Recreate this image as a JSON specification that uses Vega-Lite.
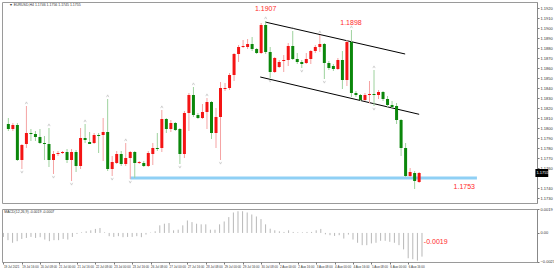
{
 "$schema": "https://vega.github.io/schema/vega-lite/v6.json",
 "padding": {"left": 1, "top": 1, "right": 0, "bottom": 0},
 "background": "white",
 "spacing": 2,
 "config": {"view": {"stroke": "#9a9a9a", "strokeWidth": 1}, "font": "Liberation Sans", "axis": {"labelOverlap": false}},
 "datasets": {
  "candles": [
   {"i":0,"o":1.1804,"h":1.1810,"l":1.1797,"c":1.1799},
   {"i":1,"o":1.1799,"h":1.1805,"l":1.1797,"c":1.1803},
   {"i":2,"o":1.1803,"h":1.1805,"l":1.1767,"c":1.1768},
   {"i":3,"o":1.1768,"h":1.1784,"l":1.1759,"c":1.1783},
   {"i":4,"o":1.1784,"h":1.1822,"l":1.1780,"c":1.1795},
   {"i":5,"o":1.1795,"h":1.1799,"l":1.1787,"c":1.1794},
   {"i":6,"o":1.1794,"h":1.1797,"l":1.1787,"c":1.1791},
   {"i":7,"o":1.1791,"h":1.1799,"l":1.1784,"c":1.1785},
   {"i":8,"o":1.1785,"h":1.1792,"l":1.1768,"c":1.1784},
   {"i":9,"o":1.1784,"h":1.1800,"l":1.1761,"c":1.1768},
   {"i":10,"o":1.1768,"h":1.1777,"l":1.1754,"c":1.1774},
   {"i":11,"o":1.1774,"h":1.1777,"l":1.1772,"c":1.1775},
   {"i":12,"o":1.1775,"h":1.1777,"l":1.1774,"c":1.1776},
   {"i":13,"o":1.1776,"h":1.1779,"l":1.1765,"c":1.1768},
   {"i":14,"o":1.1768,"h":1.1779,"l":1.1747,"c":1.1776},
   {"i":15,"o":1.1776,"h":1.1778,"l":1.1756,"c":1.1762},
   {"i":16,"o":1.1762,"h":1.1800,"l":1.1759,"c":1.1790},
   {"i":17,"o":1.1790,"h":1.1804,"l":1.1785,"c":1.1788},
   {"i":18,"o":1.1786,"h":1.1796,"l":1.1784,"c":1.1784},
   {"i":19,"o":1.1785,"h":1.1795,"l":1.1784,"c":1.1793},
   {"i":20,"o":1.1793,"h":1.1795,"l":1.1775,"c":1.1792},
   {"i":21,"o":1.1793,"h":1.1810,"l":1.1767,"c":1.1796},
   {"i":22,"o":1.1796,"h":1.1829,"l":1.1757,"c":1.1759},
   {"i":23,"o":1.1759,"h":1.1772,"l":1.1752,"c":1.1766},
   {"i":24,"o":1.1765,"h":1.1777,"l":1.1764,"c":1.1774},
   {"i":25,"o":1.1774,"h":1.1777,"l":1.1762,"c":1.1764},
   {"i":26,"o":1.1764,"h":1.1785,"l":1.1762,"c":1.1770},
   {"i":27,"o":1.1770,"h":1.1777,"l":1.1749,"c":1.1776},
   {"i":28,"o":1.1776,"h":1.1777,"l":1.1750,"c":1.1765},
   {"i":29,"o":1.1765,"h":1.1767,"l":1.1764,"c":1.1766},
   {"i":30,"o":1.1765,"h":1.1767,"l":1.1761,"c":1.1762},
   {"i":31,"o":1.1762,"h":1.1777,"l":1.1761,"c":1.1775},
   {"i":32,"o":1.1774,"h":1.1785,"l":1.1763,"c":1.1780},
   {"i":33,"o":1.1780,"h":1.1795,"l":1.1777,"c":1.1779},
   {"i":34,"o":1.1780,"h":1.1818,"l":1.1776,"c":1.1809},
   {"i":35,"o":1.1809,"h":1.1810,"l":1.1795,"c":1.1799},
   {"i":36,"o":1.1799,"h":1.1808,"l":1.1796,"c":1.1805},
   {"i":37,"o":1.1805,"h":1.1806,"l":1.1797,"c":1.1798},
   {"i":38,"o":1.1799,"h":1.1800,"l":1.1764,"c":1.1774},
   {"i":39,"o":1.1774,"h":1.1817,"l":1.1770,"c":1.1815},
   {"i":40,"o":1.1815,"h":1.1835,"l":1.1797,"c":1.1833},
   {"i":41,"o":1.1833,"h":1.1841,"l":1.1811,"c":1.1813},
   {"i":42,"o":1.1813,"h":1.1815,"l":1.1809,"c":1.1810},
   {"i":43,"o":1.1810,"h":1.1824,"l":1.1809,"c":1.1816},
   {"i":44,"o":1.1816,"h":1.1830,"l":1.1799,"c":1.1826},
   {"i":45,"o":1.1826,"h":1.1827,"l":1.1789,"c":1.1795},
   {"i":46,"o":1.1795,"h":1.1820,"l":1.1780,"c":1.1811},
   {"i":47,"o":1.1811,"h":1.1846,"l":1.1768,"c":1.1840},
   {"i":48,"o":1.1839,"h":1.1845,"l":1.1837,"c":1.1840},
   {"i":49,"o":1.1840,"h":1.1855,"l":1.1838,"c":1.1853},
   {"i":50,"o":1.1853,"h":1.1875,"l":1.1847,"c":1.1874},
   {"i":51,"o":1.1874,"h":1.1883,"l":1.1866,"c":1.1881},
   {"i":52,"o":1.1881,"h":1.1888,"l":1.1880,"c":1.1882},
   {"i":53,"o":1.1881,"h":1.1889,"l":1.1879,"c":1.1884},
   {"i":54,"o":1.1884,"h":1.1891,"l":1.1877,"c":1.1879},
   {"i":55,"o":1.1879,"h":1.1880,"l":1.1874,"c":1.1875},
   {"i":56,"o":1.1875,"h":1.1905,"l":1.1874,"c":1.1903},
   {"i":57,"o":1.1903,"h":1.1907,"l":1.1874,"c":1.1876},
   {"i":58,"o":1.1876,"h":1.1881,"l":1.1850,"c":1.1856},
   {"i":59,"o":1.1856,"h":1.1871,"l":1.1855,"c":1.1870},
   {"i":60,"o":1.1861,"h":1.1868,"l":1.1860,"c":1.1866},
   {"i":61,"o":1.1867,"h":1.1873,"l":1.1856,"c":1.1868},
   {"i":62,"o":1.1868,"h":1.1885,"l":1.1862,"c":1.1882},
   {"i":63,"o":1.1882,"h":1.1897,"l":1.1868,"c":1.1869},
   {"i":64,"o":1.1869,"h":1.1875,"l":1.1864,"c":1.1866},
   {"i":65,"o":1.1866,"h":1.1868,"l":1.1860,"c":1.1864},
   {"i":66,"o":1.1865,"h":1.1875,"l":1.1864,"c":1.1869},
   {"i":67,"o":1.1869,"h":1.1878,"l":1.1864,"c":1.1877},
   {"i":68,"o":1.1877,"h":1.1883,"l":1.1875,"c":1.1881},
   {"i":69,"o":1.1881,"h":1.1893,"l":1.1876,"c":1.1884},
   {"i":70,"o":1.1884,"h":1.1885,"l":1.1849,"c":1.1865},
   {"i":71,"o":1.1865,"h":1.1867,"l":1.1858,"c":1.1860},
   {"i":72,"o":1.1862,"h":1.1864,"l":1.1857,"c":1.1859},
   {"i":73,"o":1.1859,"h":1.1870,"l":1.1858,"c":1.1868},
   {"i":74,"o":1.1868,"h":1.1877,"l":1.1839,"c":1.1848},
   {"i":75,"o":1.1848,"h":1.1888,"l":1.1842,"c":1.1886},
   {"i":76,"o":1.1886,"h":1.1898,"l":1.1831,"c":1.1835},
   {"i":77,"o":1.1835,"h":1.1837,"l":1.1831,"c":1.1833},
   {"i":78,"o":1.1833,"h":1.1834,"l":1.1827,"c":1.1828},
   {"i":79,"o":1.1828,"h":1.1835,"l":1.1827,"c":1.1833},
   {"i":80,"o":1.1833,"h":1.1847,"l":1.1825,"c":1.1834},
   {"i":81,"o":1.1834,"h":1.1858,"l":1.1822,"c":1.1833},
   {"i":82,"o":1.1833,"h":1.1838,"l":1.1829,"c":1.1836},
   {"i":83,"o":1.1836,"h":1.1837,"l":1.1827,"c":1.1829},
   {"i":84,"o":1.1829,"h":1.1832,"l":1.1821,"c":1.1823},
   {"i":85,"o":1.1823,"h":1.1827,"l":1.1820,"c":1.1821},
   {"i":86,"o":1.1822,"h":1.1825,"l":1.1804,"c":1.1808},
   {"i":87,"o":1.1808,"h":1.1809,"l":1.1772,"c":1.1780},
   {"i":88,"o":1.1780,"h":1.1785,"l":1.1751,"c":1.1752},
   {"i":89,"o":1.1752,"h":1.1760,"l":1.1751,"c":1.1756},
   {"i":90,"o":1.1755,"h":1.1757,"l":1.1739,"c":1.1747},
   {"i":91,"o":1.1746,"h":1.1756,"l":1.1745,"c":1.1755}
  ],
  "macd": [
   {"i":0,"m":-0.00032},{"i":1,"m":-0.00058},{"i":2,"m":-0.00079},{"i":3,"m":-0.00066},
   {"i":4,"m":-0.00048},{"i":5,"m":-0.00040},{"i":6,"m":-0.00032},{"i":7,"m":-0.00040},
   {"i":8,"m":-0.00034},{"i":9,"m":-0.00053},{"i":10,"m":-0.00066},{"i":11,"m":-0.00058},
   {"i":12,"m":-0.00058},{"i":13,"m":-0.00048},{"i":14,"m":-0.00053},{"i":15,"m":-0.00032},
   {"i":16,"m":-0.00008},{"i":17,"m":0.00005},{"i":18,"m":0.00013},{"i":19,"m":0.00021},
   {"i":20,"m":0.00032},{"i":21,"m":0.00040},{"i":22,"m":0.00005},{"i":23,"m":-0.00026},
   {"i":24,"m":-0.00032},{"i":25,"m":-0.00026},{"i":26,"m":-0.00034},{"i":27,"m":-0.00032},
   {"i":28,"m":-0.00032},{"i":29,"m":-0.00026},{"i":30,"m":-0.00034},{"i":31,"m":-0.00013},
   {"i":32,"m":0.00003},{"i":33,"m":0.00013},{"i":34,"m":0.00061},{"i":35,"m":0.00074},
   {"i":36,"m":0.00079},{"i":37,"m":0.00021},{"i":38,"m":0.00026},{"i":39,"m":0.00061},
   {"i":40,"m":0.00100},{"i":41,"m":0.00087},{"i":42,"m":0.00074},{"i":43,"m":0.00069},
   {"i":44,"m":0.00069},{"i":45,"m":0.00026},{"i":46,"m":0.00026},{"i":47,"m":0.00069},
   {"i":48,"m":0.00092},{"i":49,"m":0.00127},{"i":50,"m":0.00164},{"i":51,"m":0.00174},
   {"i":52,"m":0.00174},{"i":53,"m":0.00164},{"i":54,"m":0.00148},{"i":55,"m":0.00132},
   {"i":56,"m":0.00111},{"i":57,"m":0.00069},{"i":58,"m":0.00034},{"i":59,"m":0.00021},
   {"i":60,"m":0.00013},{"i":61,"m":0.00008},{"i":62,"m":0.00021},{"i":63,"m":0.00008},
   {"i":64,"m":0.00005},{"i":65,"m":0.00005},{"i":66,"m":0.00008},{"i":67,"m":0.00008},
   {"i":68,"m":0.00021},{"i":69,"m":0.00032},{"i":70,"m":-0.00011},{"i":71,"m":-0.00018},
   {"i":72,"m":-0.00024},{"i":73,"m":-0.00018},{"i":74,"m":-0.00045},{"i":75,"m":-0.00013},
   {"i":76,"m":-0.00053},{"i":77,"m":-0.00079},{"i":78,"m":-0.00098},{"i":79,"m":-0.00098},
   {"i":80,"m":-0.00084},{"i":81,"m":-0.00079},{"i":82,"m":-0.00063},{"i":83,"m":-0.00063},
   {"i":84,"m":-0.00071},{"i":85,"m":-0.00079},{"i":86,"m":-0.00098},{"i":87,"m":-0.00132},
   {"i":88,"m":-0.00203},{"i":89,"m":-0.00211},{"i":90,"m":-0.00222},{"i":91,"m":-0.00190}
  ],
  "fractals": [
   {"i":4,"p":1.1822,"t":"up"},{"i":9,"p":1.1800,"t":"up"},{"i":17,"p":1.1804,"t":"up"},
   {"i":22,"p":1.1829,"t":"up"},{"i":26,"p":1.1785,"t":"up"},{"i":34,"p":1.1818,"t":"up"},
   {"i":41,"p":1.1841,"t":"up"},{"i":44,"p":1.1830,"t":"up"},{"i":57,"p":1.1907,"t":"up"},
   {"i":63,"p":1.1897,"t":"up"},{"i":69,"p":1.1893,"t":"up"},{"i":76,"p":1.1898,"t":"up"},
   {"i":81,"p":1.1858,"t":"up"},
   {"i":3,"p":1.1759,"t":"dn"},{"i":10,"p":1.1754,"t":"dn"},{"i":14,"p":1.1747,"t":"dn"},
   {"i":23,"p":1.1752,"t":"dn"},{"i":27,"p":1.1749,"t":"dn"},{"i":38,"p":1.1764,"t":"dn"},
   {"i":47,"p":1.1768,"t":"dn"},{"i":58,"p":1.1850,"t":"dn"},{"i":65,"p":1.1860,"t":"dn"},
   {"i":70,"p":1.1849,"t":"dn"},{"i":81,"p":1.1822,"t":"dn"}
  ],
  "channel": [
   {"i":56.85,"p":1.1906,"i2":87.9,"p2":1.1874},
   {"i":55.8,"p":1.1851,"i2":91.0,"p2":1.18137}
  ],
  "support": [{"i":27,"i2":103.8,"p":1.1750}],
  "priceLabels": [
   {"i":57.0,"p":1.19187,"t":"1.1907"},
   {"i":75.9,"p":1.19047,"t":"1.1898"},
   {"i":101.0,"p":1.17413,"t":"1.1753"}
  ],
  "bid": [{"i":116.75,"i2":119.6,"p":1.1759,"p2":1.1751,"pm":1.1755,"t":"1.1755"}],
  "mainTitle": [{"i":0.2,"p":1.1923,"t":"▼ EURUSD,H4  1.1746 1.1756 1.1745 1.1755"}],
  "macdTitle": [{"i":0.2,"m":0.00171,"t":"MACD(12,26,9) -0.0019 -0.0007"}],
  "macdLabel": [{"i":91.4,"m":-0.00073,"t":"-0.0019"}]
 },
 "vconcat": [
  {
   "width": 535,
   "height": 201,
   "layer": [
    {
     "mark": {"type": "rule", "color": "#c8c8c8", "strokeWidth": 1},
     "encoding": {
      "y": {"datum": 1.1755, "type": "quantitative",
        "scale": {"domain": [1.1725, 1.1926], "nice": false, "zero": false},
        "axis": {"orient": "right", "title": null, "grid": false, "tickCount": 40,
          "values": [1.1730,1.1740,1.1760,1.1770,1.1780,1.1790,1.1800,1.1810,1.1820,1.1830,1.1840,1.1850,1.1860,1.1870,1.1880,1.1890,1.1900,1.1910,1.1920],
          "format": ".4f", "labelFontSize": 4, "labelColor": "#333333", "tickSize": 2, "labelPadding": 1,
          "labelOverlap": false, "labelFlush": false, "labelBound": false,
          "tickColor": "#777777", "domainColor": "#888888", "labelFont": "Liberation Sans"}}
     }
    },
    {
     "data": {"name": "support"},
     "mark": {"type": "rule", "color": "#8fd0f5", "strokeWidth": 3},
     "encoding": {
      "x": {"field": "i", "type": "quantitative", "scale": {"domain": [-0.3, 116.0], "nice": false, "zero": false}, "axis": null},
      "x2": {"field": "i2"},
      "y": {"field": "p", "type": "quantitative"}
     }
    },
    {
     "data": {"name": "channel"},
     "mark": {"type": "rule", "color": "#000000", "strokeWidth": 1},
     "encoding": {
      "x": {"field": "i", "type": "quantitative", "scale": {"domain": [-0.3, 116.0], "nice": false, "zero": false}, "axis": null},
      "x2": {"field": "i2"},
      "y": {"field": "p", "type": "quantitative"},
      "y2": {"field": "p2"}
     }
    },
    {
     "data": {"name": "candles"},
     "mark": {"type": "rule", "strokeWidth": 1},
     "encoding": {
      "x": {"field": "i", "type": "quantitative", "scale": {"domain": [-0.3, 116.0], "nice": false, "zero": false}, "axis": null},
      "y": {"field": "l", "type": "quantitative"},
      "y2": {"field": "h"},
      "color": {"condition": {"test": "datum.c > datum.o", "value": "#f5a3a3"}, "value": "#9ed29e"}
     }
    },
    {
     "data": {"name": "candles"},
     "mark": {"type": "bar", "size": 3},
     "encoding": {
      "x": {"field": "i", "type": "quantitative", "scale": {"domain": [-0.3, 116.0], "nice": false, "zero": false}, "axis": null},
      "y": {"field": "o", "type": "quantitative"},
      "y2": {"field": "c"},
      "color": {"condition": {"test": "datum.c > datum.o", "value": "#f41414"}, "value": "#0b870b"}
     }
    },
    {
     "data": {"name": "fractals"},
     "transform": [{"filter": "datum.t == 'up'"}],
     "mark": {"type": "point", "shape": "M-1,1L0,-1L1,1", "size": 5, "filled": false, "stroke": "#9a9a9a", "strokeWidth": 0.6, "yOffset": -3},
     "encoding": {
      "x": {"field": "i", "type": "quantitative", "scale": {"domain": [-0.3, 116.0], "nice": false, "zero": false}, "axis": null},
      "y": {"field": "p", "type": "quantitative"}
     }
    },
    {
     "data": {"name": "fractals"},
     "transform": [{"filter": "datum.t == 'dn'"}],
     "mark": {"type": "point", "shape": "M-1,-1L0,1L1,-1", "size": 5, "filled": false, "stroke": "#9a9a9a", "strokeWidth": 0.6, "yOffset": 3},
     "encoding": {
      "x": {"field": "i", "type": "quantitative", "scale": {"domain": [-0.3, 116.0], "nice": false, "zero": false}, "axis": null},
      "y": {"field": "p", "type": "quantitative"}
     }
    },
    {
     "data": {"name": "priceLabels"},
     "mark": {"type": "text", "color": "#ff2a2a", "fontSize": 7, "align": "center", "baseline": "middle", "font": "Liberation Sans"},
     "encoding": {
      "x": {"field": "i", "type": "quantitative", "scale": {"domain": [-0.3, 116.0], "nice": false, "zero": false}, "axis": null},
      "y": {"field": "p", "type": "quantitative"},
      "text": {"field": "t"}
     }
    },
    {
     "data": {"name": "bid"},
     "mark": {"type": "rect", "color": "#000000", "clip": false},
     "encoding": {
      "x": {"field": "i", "type": "quantitative", "scale": {"domain": [-0.3, 116.0], "nice": false, "zero": false}, "axis": null},
      "x2": {"field": "i2"},
      "y": {"field": "p", "type": "quantitative"},
      "y2": {"field": "p2"}
     }
    },
    {
     "data": {"name": "bid"},
     "mark": {"type": "text", "color": "#ffffff", "fontSize": 4, "align": "left", "baseline": "middle", "dx": 1, "clip": false, "font": "Liberation Sans"},
     "encoding": {
      "x": {"field": "i", "type": "quantitative", "scale": {"domain": [-0.3, 116.0], "nice": false, "zero": false}, "axis": null},
      "y": {"field": "pm", "type": "quantitative"},
      "text": {"field": "t"}
     }
    },
    {
     "data": {"name": "mainTitle"},
     "mark": {"type": "text", "color": "#333333", "fontSize": 3.5, "align": "left", "baseline": "middle", "font": "Liberation Sans"},
     "encoding": {
      "x": {"field": "i", "type": "quantitative", "scale": {"domain": [-0.3, 116.0], "nice": false, "zero": false}, "axis": null},
      "y": {"field": "p", "type": "quantitative"},
      "text": {"field": "t"}
     }
    }
   ]
  },
  {
   "width": 535,
   "height": 53,
   "layer": [
    {
     "mark": {"type": "rule", "color": "#e39a9a", "strokeWidth": 0.8, "strokeDash": [1, 1.5]},
     "encoding": {
      "y": {"datum": 0, "type": "quantitative",
        "scale": {"domain": [-0.00233, 0.00192], "nice": false, "zero": false},
        "axis": {"orient": "right", "title": null, "grid": false, "values": [0.0019, 0, -0.0023], "tickCount": 10,
          "labelExpr": "datum.value == 0 ? '0.00' : format(datum.value, '.4f')",
          "labelFontSize": 4, "labelColor": "#333333", "tickSize": 2, "labelPadding": 1,
          "labelOverlap": false, "labelFlush": false, "labelBound": false,
          "tickColor": "#777777", "domainColor": "#888888", "labelFont": "Liberation Sans"}}
     }
    },
    {
     "data": {"name": "macd"},
     "mark": {"type": "rule", "color": "#b8b8b8", "strokeWidth": 1},
     "encoding": {
      "x": {"field": "i", "type": "quantitative", "scale": {"domain": [-0.3, 116.0], "nice": false, "zero": false},
        "axis": {"values": [0,4,8,12,16,20,24,28,32,36,40,44,48,52,56,60,64,68,72,76,80,84,88], "tickCount": 40,
          "labelExpr": "['19 Jul 2021','19 Jul 16:00','20 Jul 08:00','21 Jul 00:00','21 Jul 16:00','22 Jul 08:00','23 Jul 00:00','23 Jul 16:00','26 Jul 08:00','27 Jul 00:00','27 Jul 16:00','28 Jul 08:00','29 Jul 00:00','29 Jul 16:00','30 Jul 08:00','2 Aug 00:00','2 Aug 16:00','3 Aug 08:00','4 Aug 00:00','4 Aug 16:00','5 Aug 08:00','6 Aug 00:00','6 Aug 16:00'][round(datum.value / 4)]",
          "title": null, "grid": false, "domain": false, "labelAlign": "left", "labelFontSize": 3, "labelColor": "#333333",
          "labelOverlap": false, "labelFlush": false, "labelBound": false, "tickSize": 2, "tickColor": "#777777", "labelPadding": 1, "labelFont": "Liberation Sans"}},
      "y": {"field": "m", "type": "quantitative"},
      "y2": {"datum": 0}
     }
    },
    {
     "data": {"name": "macdLabel"},
     "mark": {"type": "text", "color": "#ff2a2a", "fontSize": 7, "align": "left", "baseline": "middle", "font": "Liberation Sans"},
     "encoding": {
      "x": {"field": "i", "type": "quantitative"},
      "y": {"field": "m", "type": "quantitative"},
      "text": {"field": "t"}
     }
    },
    {
     "data": {"name": "macdTitle"},
     "mark": {"type": "text", "color": "#333333", "fontSize": 3.5, "align": "left", "baseline": "middle", "font": "Liberation Sans"},
     "encoding": {
      "x": {"field": "i", "type": "quantitative"},
      "y": {"field": "m", "type": "quantitative"},
      "text": {"field": "t"}
     }
    }
   ]
  }
 ]
}
